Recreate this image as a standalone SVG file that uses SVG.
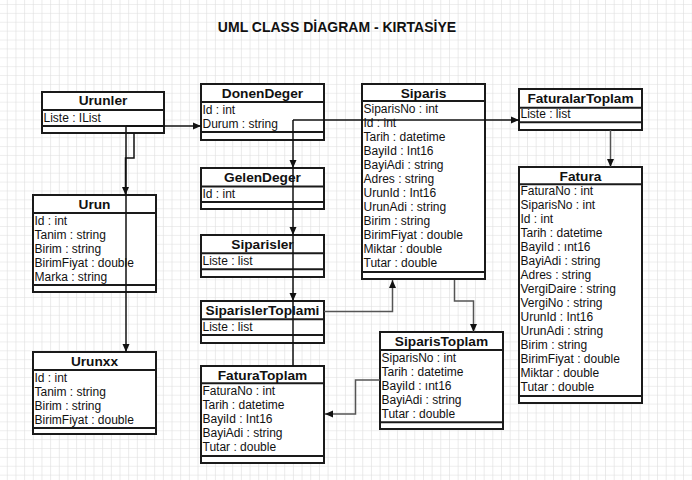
<svg xmlns="http://www.w3.org/2000/svg" width="692" height="480" viewBox="0 0 692 480">
<defs>
<pattern id="grid" x="6.8" y="4" width="8.67" height="8.88" patternUnits="userSpaceOnUse">
<path d="M0,0 H8.67 M0,0 V8.88" fill="none" stroke="#dedede" stroke-width="1.2"/>
</pattern>
<marker id="arr" viewBox="0 0 8 8" refX="8" refY="4" markerWidth="8" markerHeight="8" markerUnits="userSpaceOnUse" orient="auto">
<path d="M0,0.5 L8,4 L0,7.5 Z" fill="#111"/>
</marker>
<style>
.box{fill:#fff;stroke:#1a1a1a;stroke-width:2}
.sep{stroke:#1a1a1a;stroke-width:2}
.t{font-family:"Liberation Sans",Arial,sans-serif;font-weight:bold;font-size:13.7px;fill:#111;text-anchor:middle}
.a{font-family:"Liberation Sans",Arial,sans-serif;font-size:12px;fill:#111}
.c{fill:none;stroke:#111;stroke-width:1.5}
.g{fill:none;stroke:#555;stroke-width:1.5}
.title{font-family:"Liberation Sans",Arial,sans-serif;font-weight:bold;font-size:14px;fill:#111;text-anchor:middle}
</style>
</defs>
<rect width="692" height="480" fill="#fff"/>
<rect width="692" height="480" fill="url(#grid)"/>
<text class="title" x="337" y="32">UML CLASS DİAGRAM - KIRTASİYE</text>

<g id="Urunler">
<rect class="box" x="42" y="92" width="122" height="41"/>
<line class="sep" x1="42" y1="110" x2="164" y2="110"/>
<line class="sep" x1="42" y1="126" x2="164" y2="126"/>
<text class="t" x="103" y="105">Urunler</text>
<text class="a" x="43.5" y="122">Liste : IList</text>
</g>

<g id="DonenDeger">
<rect class="box" x="201" y="84" width="123" height="56"/>
<line class="sep" x1="201" y1="102" x2="324" y2="102"/>
<line class="sep" x1="201" y1="132" x2="324" y2="132"/>
<text class="t" x="262.5" y="97.5">DonenDeger</text>
<text class="a" x="202.5" y="114">Id : int</text>
<text class="a" x="202.5" y="128">Durum : string</text>
</g>

<g id="GelenDeger">
<rect class="box" x="201" y="168" width="123" height="41"/>
<line class="sep" x1="201" y1="186.5" x2="324" y2="186.5"/>
<line class="sep" x1="201" y1="202" x2="324" y2="202"/>
<text class="t" x="262.5" y="181.5">GelenDeger</text>
<text class="a" x="202.5" y="198">Id : int</text>
</g>

<g id="Siparisler">
<rect class="box" x="201" y="235" width="123" height="42"/>
<line class="sep" x1="201" y1="253.3" x2="324" y2="253.3"/>
<line class="sep" x1="201" y1="269.3" x2="324" y2="269.3"/>
<text class="t" x="262.5" y="248.5">Siparisler</text>
<text class="a" x="202.5" y="265">Liste : list</text>
</g>

<g id="SiparislerToplami">
<rect class="box" x="201" y="301" width="123" height="42"/>
<line class="sep" x1="201" y1="319.3" x2="324" y2="319.3"/>
<line class="sep" x1="201" y1="335" x2="324" y2="335"/>
<text class="t" x="262.5" y="315">SiparislerToplami</text>
<text class="a" x="202.5" y="331">Liste : list</text>
</g>

<g id="FaturaToplam">
<rect class="box" x="201" y="366" width="123" height="97"/>
<line class="sep" x1="201" y1="383.3" x2="324" y2="383.3"/>
<line class="sep" x1="201" y1="456" x2="324" y2="456"/>
<text class="t" x="262.5" y="379.5">FaturaToplam</text>
<text class="a" x="202.5" y="395">FaturaNo : int</text>
<text class="a" x="202.5" y="409">Tarih : datetime</text>
<text class="a" x="202.5" y="423">BayiId : Int16</text>
<text class="a" x="202.5" y="437">BayiAdi : string</text>
<text class="a" x="202.5" y="451">Tutar : double</text>
</g>

<g id="Siparis">
<rect class="box" x="362" y="84" width="123" height="195"/>
<line class="sep" x1="362" y1="101" x2="485" y2="101"/>
<line class="sep" x1="362" y1="272" x2="485" y2="272"/>
<text class="t" x="423.5" y="97.5">Siparis</text>
<text class="a" x="363.5" y="113">SiparisNo : int</text>
<text class="a" x="363.5" y="127">Id : int</text>
<text class="a" x="363.5" y="141">Tarih : datetime</text>
<text class="a" x="363.5" y="155">BayiId : Int16</text>
<text class="a" x="363.5" y="169">BayiAdi : string</text>
<text class="a" x="363.5" y="183">Adres : string</text>
<text class="a" x="363.5" y="197">UrunId : Int16</text>
<text class="a" x="363.5" y="211">UrunAdi : string</text>
<text class="a" x="363.5" y="225">Birim : string</text>
<text class="a" x="363.5" y="239">BirimFiyat : double</text>
<text class="a" x="363.5" y="253">Miktar : double</text>
<text class="a" x="363.5" y="267">Tutar : double</text>
</g>

<g id="SiparisToplam">
<rect class="box" x="380" y="332" width="123" height="97"/>
<line class="sep" x1="380" y1="350" x2="503" y2="350"/>
<line class="sep" x1="380" y1="422.3" x2="503" y2="422.3"/>
<text class="t" x="441.5" y="346">SiparisToplam</text>
<text class="a" x="381.5" y="362">SiparisNo : int</text>
<text class="a" x="381.5" y="376">Tarih : datetime</text>
<text class="a" x="381.5" y="390">BayiId : ınt16</text>
<text class="a" x="381.5" y="404">BayiAdi : string</text>
<text class="a" x="381.5" y="418">Tutar : double</text>
</g>

<g id="FaturalarToplam">
<rect class="box" x="519" y="89" width="123" height="41"/>
<line class="sep" x1="519" y1="107.7" x2="642" y2="107.7"/>
<line class="sep" x1="519" y1="122.3" x2="642" y2="122.3"/>
<text class="t" x="580.5" y="103">FaturalarToplam</text>
<text class="a" x="520.5" y="118">Liste : list</text>
</g>

<g id="Fatura">
<rect class="box" x="519" y="167" width="123" height="236"/>
<line class="sep" x1="519" y1="184.3" x2="642" y2="184.3"/>
<line class="sep" x1="519" y1="396" x2="642" y2="396"/>
<text class="t" x="580.5" y="180.5">Fatura</text>
<text class="a" x="520.5" y="195">FaturaNo : int</text>
<text class="a" x="520.5" y="209">SiparisNo : int</text>
<text class="a" x="520.5" y="223">Id : int</text>
<text class="a" x="520.5" y="237">Tarih : datetime</text>
<text class="a" x="520.5" y="251">BayiId : ınt16</text>
<text class="a" x="520.5" y="265">BayiAdi : string</text>
<text class="a" x="520.5" y="279">Adres : string</text>
<text class="a" x="520.5" y="293">VergiDaire : string</text>
<text class="a" x="520.5" y="307">VergiNo : string</text>
<text class="a" x="520.5" y="321">UrunId : Int16</text>
<text class="a" x="520.5" y="335">UrunAdi : string</text>
<text class="a" x="520.5" y="349">Birim : string</text>
<text class="a" x="520.5" y="363">BirimFiyat : double</text>
<text class="a" x="520.5" y="377">Miktar : double</text>
<text class="a" x="520.5" y="391">Tutar : double</text>
</g>

<g id="Urun">
<rect class="box" x="33" y="195" width="123" height="97"/>
<line class="sep" x1="33" y1="213" x2="156" y2="213"/>
<line class="sep" x1="33" y1="285" x2="156" y2="285"/>
<text class="t" x="94.5" y="208.5">Urun</text>
<text class="a" x="34.5" y="225">Id : int</text>
<text class="a" x="34.5" y="239">Tanim : string</text>
<text class="a" x="34.5" y="253">Birim : string</text>
<text class="a" x="34.5" y="267">BirimFiyat : double</text>
<text class="a" x="34.5" y="281">Marka : string</text>
</g>

<g id="Urunxx">
<rect class="box" x="33" y="352" width="123" height="82"/>
<line class="sep" x1="33" y1="370" x2="156" y2="370"/>
<line class="sep" x1="33" y1="428" x2="156" y2="428"/>
<text class="t" x="94.5" y="365.5">Urunxx</text>
<text class="a" x="34.5" y="382">Id : int</text>
<text class="a" x="34.5" y="396">Tanim : string</text>
<text class="a" x="34.5" y="410">Birim : string</text>
<text class="a" x="34.5" y="424">BirimFiyat : double</text>
</g>

<g id="connectors">
<path class="c" d="M126,126 H201" marker-end="url(#arr)"/>
<path class="c" d="M134,133 V158 H125.5 V195" marker-end="url(#arr)"/>
<path class="c" d="M126,126 V352" marker-end="url(#arr)"/>
<path class="c" d="M293,120 H519" marker-end="url(#arr)"/>
<path class="c" d="M293,120 V168" marker-end="url(#arr)"/>
<path class="c" d="M293,168 V235" marker-end="url(#arr)"/>
<path class="c" d="M293,235 V301" marker-end="url(#arr)"/>
<path class="c" d="M293,301 V366"/>
<path class="g" d="M610.5,130 V167" marker-end="url(#arr)"/>
<path class="g" d="M324,311.5 H392.5 V280" marker-end="url(#arr)"/>
<path class="g" d="M454.5,280 V301 H473.5 V332" marker-end="url(#arr)"/>
<path class="g" d="M380,380 H355.5 V414 H325" marker-end="url(#arr)"/>
</g>
</svg>
